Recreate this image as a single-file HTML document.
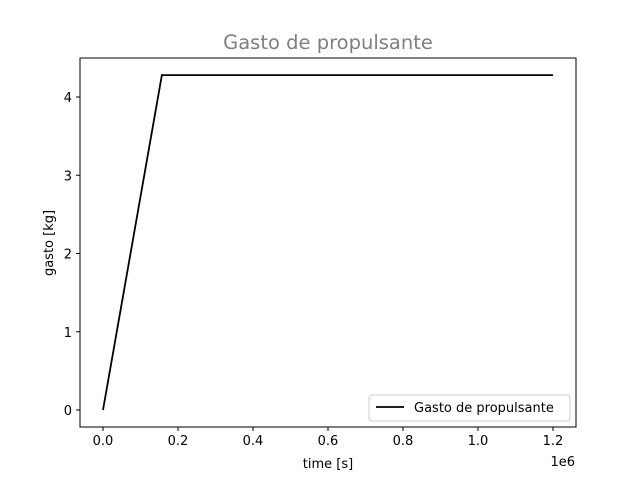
<!DOCTYPE html>
<html><head><meta charset="utf-8"><style>
body{margin:0;background:#fff;}
svg text{font-family:"DejaVu Sans","Liberation Sans",sans-serif;}
</style></head><body>
<svg width="640" height="480" xmlns="http://www.w3.org/2000/svg">
<rect width="640" height="480" fill="#fff"/>
<text x="328" y="49" text-anchor="middle" font-size="19.5" fill="#808080">Gasto de propulsante</text>
<g id="plot"></g>
<rect x="80" y="58" width="496" height="369" fill="none" stroke="#000" stroke-width="1"/>
<text x="328" y="468" text-anchor="middle" font-size="13">time [s]</text>
<text x="575" y="466" text-anchor="end" font-size="13">1e6</text>
<text transform="translate(53,243) rotate(-90)" text-anchor="middle" font-size="13">gasto [kg]</text>
<g>
<rect x="369" y="395" width="201" height="26" rx="3" fill="#fff" stroke="#ccc"/>
<line x1="376" y1="407" x2="404" y2="407" stroke="#000" stroke-width="1.8"/>
<text x="414" y="412" font-size="13">Gasto de propulsante</text>
</g>
</svg>
<script>
const xs=[0,0.157e6,1.2e6];
const ys=[0,4.28,4.28];
const xTicks=[0,0.2,0.4,0.6,0.8,1.0,1.2];
const xTickLabels=["0.0","0.2","0.4","0.6","0.8","1.0","1.2"];
const yTicks=[0,1,2,3,4];
const yTickLabels=["0","1","2","3","4"];
const NS="http://www.w3.org/2000/svg";
const sx=v=>103+v/1e6*375;
const sy=v=>410-v*78.25;
const g=document.getElementById('plot');
function mk(t,a){const e=document.createElementNS(NS,t);for(const k in a)e.setAttribute(k,a[k]);g.appendChild(e);return e;}
xTicks.forEach((t,i)=>{const x=sx(t*1e6);
const l=mk('line',{x1:x,x2:x,y1:427,y2:431,stroke:'#000'});


const tx=mk('text',{x:x,y:445,'text-anchor':'middle','font-size':13});tx.textContent=xTickLabels[i];

});
yTicks.forEach((t,i)=>{const y=sy(t);
const l=mk('line',{x1:76,x2:80,y1:y,y2:y,stroke:'#000'});


const tx=mk('text',{x:72,y:y+5,'text-anchor':'end','font-size':13});tx.textContent=yTickLabels[i];

});
const p=mk('polyline',{points:xs.map((x,i)=>sx(x)+','+sy(ys[i])).join(' '),fill:'none',stroke:'#000','stroke-width':1.8});


</script>
</body></html>
